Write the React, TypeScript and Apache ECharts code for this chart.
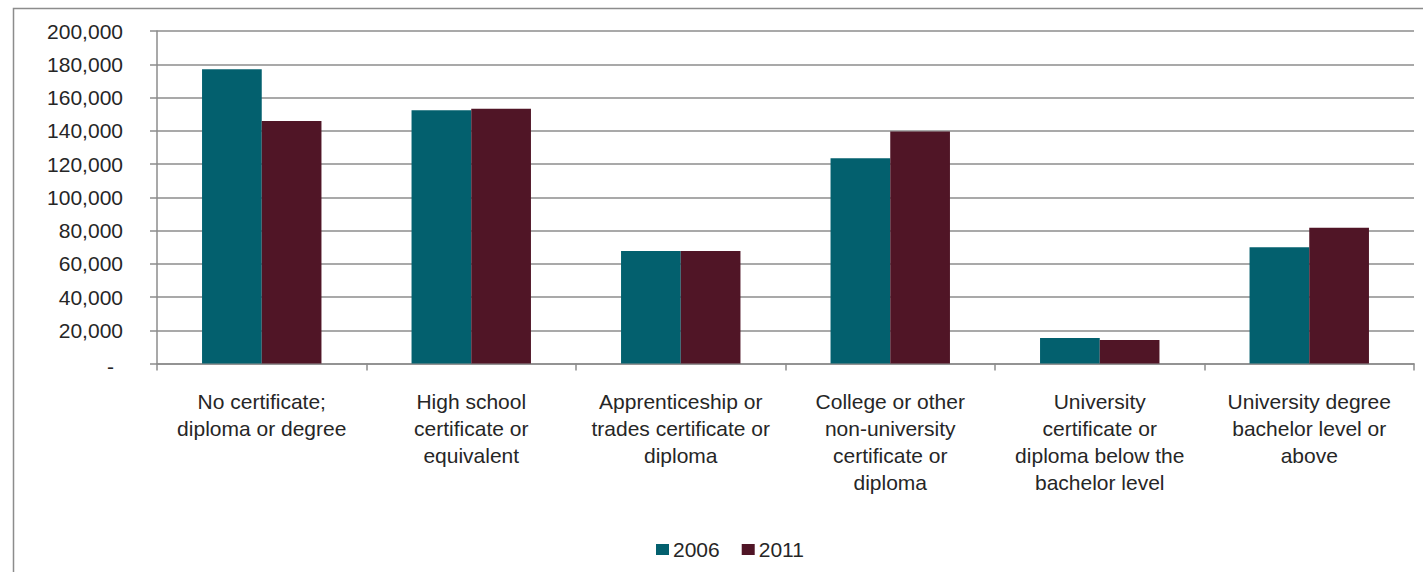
import React, { useEffect, useRef } from "react";
import * as echarts from "echarts";

const categories = [
  "No certificate;\ndiploma or degree",
  "High school\ncertificate or\nequivalent",
  "Apprenticeship or\ntrades certificate or\ndiploma",
  "College or other\nnon-university\ncertificate or\ndiploma",
  "University\ncertificate or\ndiploma below the\nbachelor level",
  "University degree\nbachelor level or\nabove",
];
const values2006 = [177000, 152300, 67700, 123400, 15300, 69900];
const values2011 = [145800, 153300, 67700, 139500, 14100, 81700];
const seriesNames = ["2006", "2011"];

const FONT = "'Liberation Sans', Arial, sans-serif";
const TEXT = "#262626";
const GRIDC = "#8c8c8c";
const FS = 21;

export default function App() {
  const ref = useRef<HTMLDivElement>(null);
  useEffect(() => {
    if (!ref.current) return;
    const chart = echarts.init(ref.current, null, { renderer: "svg" });
    chart.setOption({
      animation: false,
      backgroundColor: "#ffffff",
      textStyle: { fontFamily: FONT },
      graphic: [
        {
          type: "rect",
          left: 11,
          top: 6,
          shape: { width: 1500, height: 700 },
          style: { fill: "none", stroke: "#8c8c8c", lineWidth: 1.5 },
          silent: true,
          z: -10,
        },
      ],
      legend: {
        left: 651,
        top: 534,
        itemWidth: 13,
        itemHeight: 11,
        itemGap: 22,
        icon: "rect",
        textStyle: { fontFamily: FONT, fontSize: FS, color: TEXT, padding: [0, 0, 0, -1] },
        data: seriesNames,
      },
      grid: { left: 157, right: 9, top: 31, bottom: 208.5, containLabel: false },
      xAxis: {
        type: "category",
        data: categories,
        axisLine: { lineStyle: { color: GRIDC, width: 1.5 } },
        axisTick: { show: true, length: 7, lineStyle: { color: GRIDC, width: 1.5 } },
        axisLabel: {
          interval: 0,
          margin: 24,
          fontFamily: FONT,
          fontSize: FS,
          lineHeight: 27,
          color: TEXT,
          align: "center",
        },
      },
      yAxis: {
        type: "value",
        min: 0,
        max: 200000,
        interval: 20000,
        axisLine: { show: true, lineStyle: { color: GRIDC, width: 1.5 } },
        axisTick: { show: true, length: 7, lineStyle: { color: GRIDC, width: 1.5 } },
        splitLine: { show: true, lineStyle: { color: GRIDC, width: 1.5 } },
        axisLabel: {
          margin: 34,
          fontFamily: FONT,
          fontSize: FS,
          color: TEXT,
          formatter: (v: number) =>
            v === 0 ? "{d|-}" : v.toLocaleString("en-US"),
          rich: {
            d: { fontFamily: FONT, fontSize: FS, color: TEXT, padding: [6, 9, 0, 0] },
          },
        },
      },
      series: [
        {
          name: seriesNames[0],
          type: "bar",
          data: values2006,
          barGap: "0%",
          barCategoryGap: "43%",
          itemStyle: { color: "#03606e" },
        },
        {
          name: seriesNames[1],
          type: "bar",
          data: values2011,
          barGap: "0%",
          barCategoryGap: "43%",
          itemStyle: { color: "#501526" },
        },
      ],
    });
    return () => chart.dispose();
  }, []);
  return (
    <div
      ref={ref}
      style={{ position: "absolute", left: 0, top: 0, width: 1423, height: 572 }}
    />
  );
}
